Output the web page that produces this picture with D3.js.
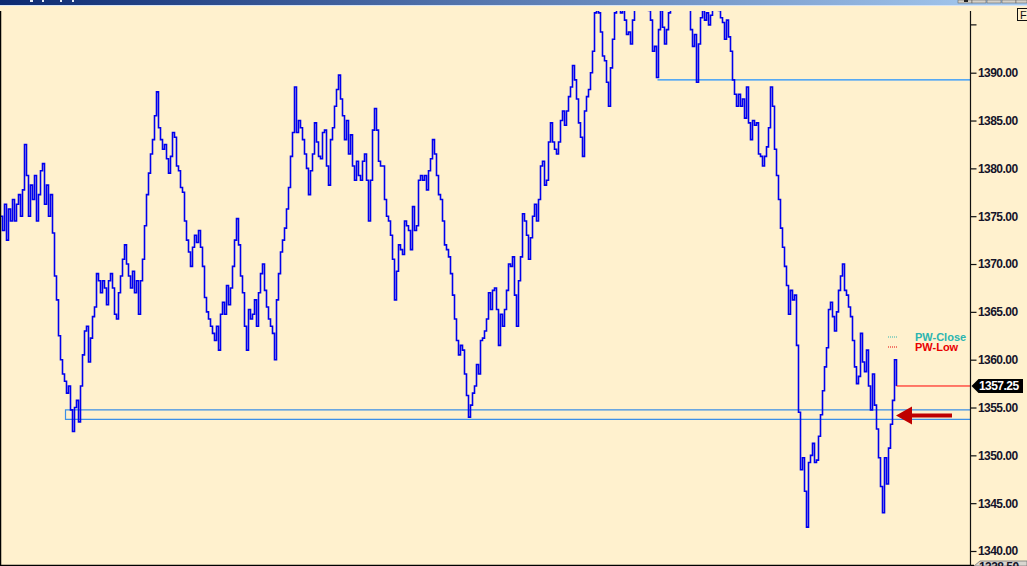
<!DOCTYPE html>
<html><head><meta charset="utf-8">
<script src="https://cdn.jsdelivr.net/npm/d3@7"></script>
<style>html,body{margin:0;padding:0;background:#fff1ce;overflow:hidden}</style>
</head><body><svg id="c" width="1027" height="566"></svg>
<script>
// Close prices, one per bar (bar index 0..448)
const closes = [
1375.0,1373.5,1376.25,1372.5,1375.75,1374.5,1376.75,1374.5,1376.25,1377.25,
1375.0,1377.75,1382.5,1379.25,1375.0,1378.25,1376.75,1379.25,1374.5,1377.25,
1379.75,1380.5,1376.25,1378.25,1375.0,1377.25,1373.25,1368.75,1366.25,1362.5,
1360.0,1358.5,1357.75,1356.5,1357.25,1354.75,1352.5,1355.0,1355.75,1353.5,
1357.25,1360.5,1363.0,1363.5,1359.75,1362.25,1364.5,1365.5,1369.0,1368.25,
1367.0,1368.25,1367.5,1365.75,1368.25,1369.0,1367.5,1364.75,1364.25,1367.0,
1368.75,1370.5,1372.0,1370.0,1368.75,1367.5,1369.25,1367.0,1368.25,1364.75,
1368.25,1370.5,1374.0,1377.25,1379.5,1381.5,1383.0,1385.5,1388.0,1384.25,
1383.0,1382.0,1382.5,1381.0,1379.5,1381.25,1383.75,1383.25,1380.25,1379.75,
1378.0,1377.5,1374.5,1372.5,1371.25,1369.75,1371.75,1373.0,1372.25,1373.5,
1371.75,1369.75,1366.5,1365.0,1364.25,1363.5,1362.75,1362.0,1363.5,1361.0,
1364.75,1366.0,1364.75,1367.75,1365.75,1367.5,1369.75,1372.5,1374.75,1372.0,
1368.75,1367.0,1363.5,1361.0,1365.25,1364.25,1364.75,1366.25,1363.5,1367.0,
1369.0,1370.0,1367.25,1365.5,1364.25,1363.5,1362.75,1360.0,1366.25,1369.0,
1371.25,1372.5,1373.75,1375.75,1378.0,1381.25,1383.75,1388.5,1383.75,1385.0,
1384.25,1383.0,1381.5,1380.0,1377.25,1379.75,1381.5,1384.75,1382.75,1381.25,
1381.0,1383.75,1384.0,1380.25,1378.25,1383.0,1384.25,1386.5,1388.25,1389.75,
1387.25,1385.5,1383.0,1385.0,1381.5,1383.5,1380.25,1378.75,1380.75,1379.25,
1378.75,1380.75,1381.5,1378.75,1374.5,1378.75,1384.0,1386.25,1384.0,1380.75,
1380.25,1380.25,1376.75,1375.0,1374.5,1373.0,1370.5,1366.25,1369.25,1372.0,
1371.5,1371.0,1374.5,1374.0,1373.5,1371.5,1376.0,1373.5,1374.0,1378.75,
1379.25,1378.75,1379.25,1377.75,1379.75,1381.0,1383.0,1381.5,1379.25,1377.25,
1376.75,1374.5,1372.0,1371.5,1370.75,1369.0,1366.75,1364.25,1362.0,1360.5,
1361.5,1361.0,1358.5,1356.25,1354.0,1355.25,1356.5,1357.25,1359.5,1358.5,
1362.0,1362.25,1363.0,1364.25,1367.0,1365.25,1367.25,1367.5,1365.25,1361.5,
1364.75,1363.5,1365.25,1367.25,1370.0,1369.75,1370.75,1366.75,1363.5,1368.25,
1370.75,1375.25,1374.5,1373.0,1370.5,1372.75,1375.0,1376.25,1374.5,1376.75,
1380.25,1380.75,1378.25,1378.75,1382.75,1384.75,1382.75,1382.0,1381.5,1382.75,
1385.0,1386.0,1384.5,1386.0,1387.5,1388.5,1390.75,1389.25,1387.25,1384.75,
1383.25,1381.25,1386.0,1387.5,1388.25,1390.0,1392.25,1396.25,1396.5,1396.25,
1394.25,1391.75,1391.25,1389.0,1386.5,1390.5,1393.5,1396.25,1397.5,1398.0,
1396.25,1397.5,1395.5,1394.0,1394.25,1393.0,1395.5,1397.0,1397.5,1396.75,
1398.0,1398.0,1397.5,1397.0,1396.5,1395.5,1392.25,1392.75,1389.5,1394.5,
1396.5,1394.75,1393.0,1394.5,1396.25,1397.5,1398.75,1399.25,1398.5,1398.75,
1398.0,1399.25,1398.5,1397.5,1396.75,1394.5,1392.75,1394.0,1389.0,1393.0,
1395.75,1396.5,1395.5,1396.25,1395.0,1396.0,1397.0,1397.5,1397.25,1396.5,
1395.75,1395.25,1393.5,1395.5,1393.75,1392.25,1389.25,1387.75,1386.5,1387.75,
1386.5,1387.25,1385.25,1388.5,1384.75,1383.0,1385.0,1384.5,1384.75,1381.5,
1381.25,1380.25,1381.25,1382.25,1384.25,1388.5,1386.5,1382.0,1379.25,1376.75,
1373.75,1371.75,1369.75,1367.75,1364.75,1367.25,1366.25,1366.75,1361.5,1354.5,
1348.5,1349.75,1346.25,1342.5,1349.25,1350.0,1351.25,1349.25,1349.5,1352.0,
1354.25,1356.75,1359.25,1361.25,1365.25,1366.0,1364.5,1363.0,1365.0,1367.25,
1368.75,1370.0,1367.25,1366.75,1365.5,1364.5,1362.0,1359.25,1357.5,1358.25,
1362.75,1359.75,1358.75,1361.0,1357.25,1354.75,1358.5,1355.25,1352.75,1349.75,
1346.75,1344.0,1349.75,1347.0,1350.75,1353.25,1355.75,1360.0,1357.25
];
const yTickValues = [1390,1385,1380,1375,1370,1365,1360,1355,1350,1345,1340];
const unlabeledTicks = [1395];
const boxLevels = [1354.75, 1353.75];   // drawn from bar 32.5
const boxStart = [32.5];
const upperLevel = [1389.25];            // drawn from bar 328.5
const upperStart = [328.5];
const lastPrice = [1357.25];
const legendNames = ["PW-Close", "PW-Low"];
const legendColors = ["#2bb5b0", "#e80000"];
const bottomLabel = ["1338.50"];

const W = 1027, H = 566, axisX = 970.5, plotTop = 11, plotBottom = 565;
const svg = d3.select("#c");
const x = d3.scaleLinear().domain([0, 448]).range([0.5, 896.5]);
const y = d3.scaleLinear().domain([1340, 1390]).range([551.0, 72.7]);

svg.append("rect").attr("width", W).attr("height", H).attr("fill", "#fff1ce");

// title bar
const defs = svg.append("defs");
const g1 = defs.append("linearGradient").attr("id", "tb");
g1.append("stop").attr("offset", "0%").attr("stop-color", "#0c2a72");
g1.append("stop").attr("offset", "100%").attr("stop-color", "#a9cdf2");
svg.append("rect").attr("x", 0).attr("y", 0).attr("width", W).attr("height", 5).attr("fill", "url(#tb)");
svg.append("rect").attr("x", 0).attr("y", 5).attr("width", W).attr("height", 1).attr("fill", "#d6e4f5");
[[30,3],[42,2],[60,2],[72,2]].forEach(b => {
  svg.append("rect").attr("x", b[0]).attr("y", 0).attr("width", b[1]).attr("height", 2).attr("fill", "#e8eefa");
});
[[958,14],[972,14],[987,14],[1002,14],[1016,11]].forEach(b => {
  svg.append("rect").attr("x", b[0]).attr("y", 0).attr("width", b[1]).attr("height", 3).attr("fill", "#d4d0c8").attr("stroke", "#555").attr("stroke-width", 0.5);
});
svg.append("rect").attr("x", 964).attr("y", 0).attr("width", 4).attr("height", 2).attr("fill", "#222");

// clip
defs.append("clipPath").attr("id", "plot").append("rect")
  .attr("x", 0).attr("y", plotTop).attr("width", axisX).attr("height", plotBottom - plotTop);

const plot = svg.append("g").attr("clip-path", "url(#plot)");

// box lines
plot.append("path")
  .attr("d", `M${axisX},${y(boxLevels[0])}H${x(boxStart[0])}V${y(boxLevels[1])}H${axisX}`)
  .attr("fill", "none").attr("stroke", "#3b8fe6").attr("stroke-width", 1.2);
plot.append("line").attr("x1", x(upperStart[0])).attr("x2", axisX)
  .attr("y1", y(upperLevel[0])).attr("y2", y(upperLevel[0]))
  .attr("stroke", "#1e90ff").attr("stroke-width", 1.2);

// price line
const line = d3.line().x((d, i) => x(i)).y(d => y(d)).curve(d3.curveStepAfter);
plot.append("path").datum(closes).attr("d", line)
  .attr("fill", "none").attr("stroke", "#0000ee").attr("stroke-width", 1.6);

// last price line
plot.append("line").attr("x1", x(closes.length - 1)).attr("x2", axisX)
  .attr("y1", y(lastPrice[0])).attr("y2", y(lastPrice[0]))
  .attr("stroke", "#ff0000").attr("stroke-width", 1);

// left border & bottom border
svg.append("line").attr("x1", 0.5).attr("x2", 0.5).attr("y1", plotTop).attr("y2", H).attr("stroke", "#000").attr("stroke-width", 1.5);
svg.append("line").attr("x1", 0).attr("x2", 974).attr("y1", 565.5).attr("y2", 565.5).attr("stroke", "#000").attr("stroke-width", 1.5);

// axis
const axis = d3.axisRight(y).tickValues(yTickValues).tickFormat(d3.format(".2f")).tickSize(6).tickPadding(1.5);
const ag = svg.append("g").attr("transform", `translate(${axisX},0)`).call(axis);
ag.select(".domain").remove();
ag.selectAll("line").attr("stroke", "#111").attr("stroke-width", 1.2);
ag.selectAll("text").attr("fill", "#14142a").style("font", "bold 12px 'Liberation Sans', Arial, sans-serif").attr("letter-spacing", "-0.55");
ag.append("line").attr("x1", 0).attr("x2", 0).attr("y1", plotTop).attr("y2", H).attr("stroke", "#111").attr("stroke-width", 1.2);
unlabeledTicks.forEach(t => ag.append("line").attr("x1", 0).attr("x2", 6).attr("y1", y(t)).attr("y2", y(t)).attr("stroke", "#111").attr("stroke-width", 1.2));

// "F" box
svg.append("rect").attr("x", 1017.5).attr("y", 8.5).attr("width", 12).attr("height", 12).attr("fill", "#fff1ce").attr("stroke", "#111");
svg.append("text").attr("x", 1020).attr("y", 18.5).text("F").style("font", "11px 'Liberation Sans', Arial, sans-serif").attr("fill", "#111");

// last price tag
const ly = y(lastPrice[0]);
svg.append("path").attr("d", `M${axisX + 1},${ly}L${axisX + 8},${ly - 7}H1023V${ly + 7}H${axisX + 8}Z`).attr("fill", "#000");
svg.append("text").attr("x", 979).attr("y", ly + 4.5).text(d3.format(".2f")(lastPrice[0]))
  .attr("fill", "#fff").style("font", "bold 12px 'Liberation Sans', Arial, sans-serif").attr("letter-spacing", "-0.55");

// bottom tab
svg.append("path").attr("d", "M974,566L980,561H1027V566Z").attr("fill", "#d9d6cf").attr("stroke", "#777").attr("stroke-width", 0.8);
svg.append("text").attr("x", 979).attr("y", 571).text(bottomLabel[0]).attr("fill", "#14142a")
  .style("font", "bold 12px 'Liberation Sans', Arial, sans-serif").attr("letter-spacing", "-0.55");

// legend
legendNames.forEach((n, i) => {
  const ly2 = 337 + i * 10;
  svg.append("line").attr("x1", 888).attr("x2", 898).attr("y1", ly2).attr("y2", ly2)
    .attr("stroke", legendColors[i]).attr("stroke-width", 1).attr("stroke-dasharray", "1,1");
  svg.append("text").attr("x", 915).attr("y", ly2 + 4).text(n).attr("fill", legendColors[i])
    .style("font", "bold 11px 'Liberation Sans', Arial, sans-serif");
});

// red arrow annotation
const ay = 415.5;
svg.append("path").attr("d", `M896,${ay}L912,${ay - 9}V${ay - 2}H952V${ay + 2}H912V${ay + 9}Z`).attr("fill", "#bf0000");
</script></body></html>
